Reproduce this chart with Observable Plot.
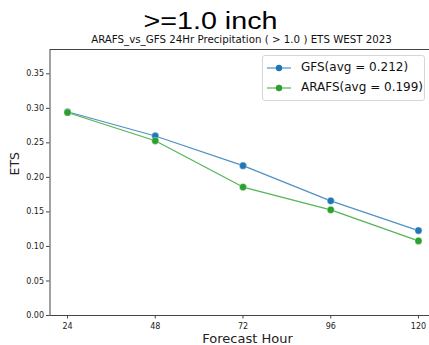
<!DOCTYPE html>
<html>
<head>
<meta charset="utf-8">
<script src="https://cdn.jsdelivr.net/npm/d3@7"></script>
<script src="https://cdn.jsdelivr.net/npm/@observablehq/plot@0.6"></script>
<style>
  html, body { margin: 0; padding: 0; background: white; }
  #wrap { position: relative; width: 429px; height: 345px; overflow: hidden; }
  #legend { position: absolute; left: 262px; top: 55px; width: 161px; height: 44px;
    border: 1px solid #d6d6d6; border-radius: 3px; background: rgba(255,255,255,0.85);
    font-family: "DejaVu Sans", sans-serif; font-size: 12px; color: #111; }
  .item { position: absolute; left: 0; height: 20px; width: 161px; }
  .item svg { position: absolute; left: 3px; top: 0; }
  .item span { position: absolute; left: 38px; top: 2px; white-space: nowrap; }
</style>
</head>
<body>
<div id="wrap"></div>
<script>
const hours = [24, 48, 72, 96, 120];
const gfs = [0.295, 0.260, 0.217, 0.166, 0.123];
const arafs = [0.294, 0.253, 0.186, 0.153, 0.108];
const seriesNames = ["GFS", "ARAFS"];
const seriesColors = ["#1f77b4", "#2ca02c"];
const yTicks = [0, 0.05, 0.10, 0.15, 0.20, 0.25, 0.30, 0.35];
const titleText = ">=1.0 inch";
const subtitleText = "ARAFS_vs_GFS 24Hr Precipitation ( > 1.0 ) ETS WEST 2023";
const xLabel = "Forecast Hour";
const yLabel = "ETS";

const seriesValues = [gfs, arafs];
const rows = [];
seriesNames.forEach((s, i) => hours.forEach((h, j) => rows.push({series: s, hour: h, ets: seriesValues[i][j]})));

const chart = Plot.plot({
  width: 429,
  height: 345,
  marginLeft: 49.5,
  marginRight: -6.5,
  marginTop: 49,
  marginBottom: 30,
  style: {fontFamily: "DejaVu Sans, sans-serif", fontSize: "8px", color: "#222", background: "white", overflow: "visible"},
  x: {domain: [19.2, 124.8]},
  y: {domain: [0, 0.3852]},
  color: {domain: seriesNames, range: seriesColors},
  marks: [
    Plot.frame({stroke: "#444", strokeWidth: 1}),
    Plot.axisX({ticks: hours, tickSize: 3.5, tickPadding: 4, fontSize: 8, label: null, stroke: "#444"}),
    Plot.axisY({ticks: yTicks, tickFormat: d3.format(".2f"), tickSize: 3.5, tickPadding: 2.5, fontSize: 8, label: null, stroke: "#444"}),
    Plot.line(rows, {x: "hour", y: "ets", z: "series", stroke: "series", strokeWidth: 1.2, strokeOpacity: 0.8}),
    Plot.dot(rows, {x: "hour", y: "ets", fill: "series", r: 3.6, stroke: "white", strokeWidth: 0.6, strokeOpacity: 0.6}),
    Plot.text([titleText], {frameAnchor: "top", text: d => d, dx: -32.5, dy: -21, lineAnchor: "bottom",
      fontFamily: "Liberation Sans, Arial, sans-serif", fontSize: 23, fill: "#000", className: "ttl"}),
    Plot.text([subtitleText], {frameAnchor: "top", text: d => d, dx: -1.5, dy: -7, lineAnchor: "bottom",
      fontSize: 10.25, fill: "#111"}),
    Plot.text([xLabel], {frameAnchor: "bottom", text: d => d, dx: 4.5, dy: 27, lineAnchor: "bottom",
      fontSize: 13, fill: "#222"}),
    Plot.text([yLabel], {frameAnchor: "left", text: d => d, dx: -31.5, dy: -7, rotate: -90, lineAnchor: "bottom",
      fontSize: 12.5, fill: "#222"})
  ]
});
d3.select(chart).selectAll(".ttl text").attr("textLength", 134).attr("lengthAdjust", "spacingAndGlyphs");
const wrap = document.getElementById("wrap");
wrap.appendChild(chart);

// legend
const legend = document.createElement("div");
legend.id = "legend";
seriesNames.forEach((s, i) => {
  const item = document.createElement("div");
  item.className = "item";
  item.style.top = (2 + i * 20) + "px";
  const avg = d3.mean(seriesValues[i]);
  item.innerHTML = `<svg width="26" height="20"><line x1="1" x2="25" y1="10" y2="10" stroke="${seriesColors[i]}" stroke-width="1.2" stroke-opacity="0.8"/><circle cx="13" cy="10" r="3.2" fill="${seriesColors[i]}"/></svg><span>${s}(avg = ${d3.format(".3f")(avg)})</span>`;
  legend.appendChild(item);
});
wrap.appendChild(legend);
</script>
</body>
</html>
